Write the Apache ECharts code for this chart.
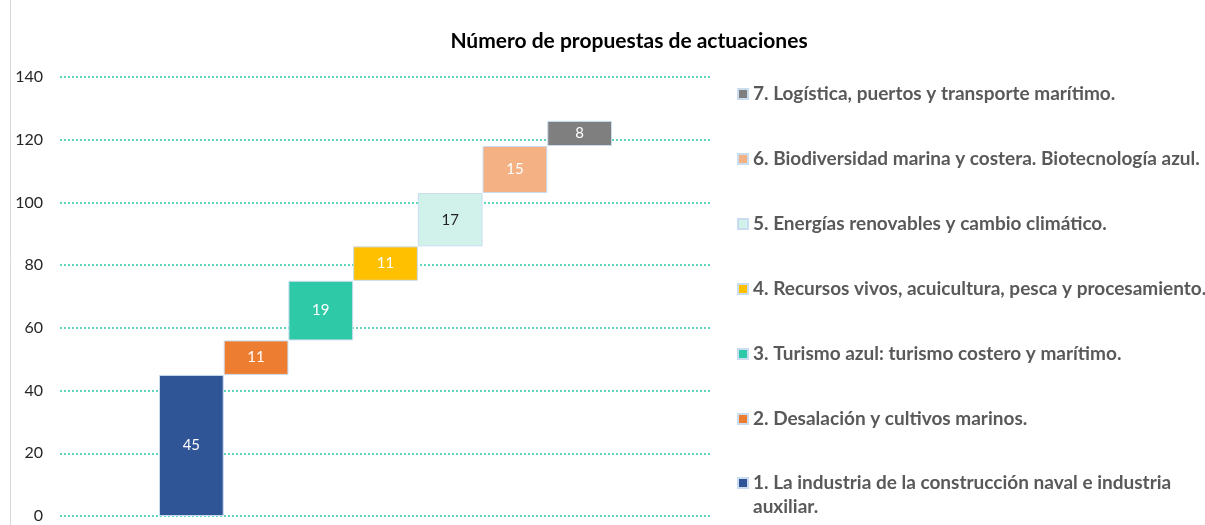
<!DOCTYPE html>
<html>
<head>
<meta charset="utf-8">
<script src="https://cdn.jsdelivr.net/npm/echarts@6/dist/echarts.min.js"></script>
<style>
  html, body { margin: 0; padding: 0; background: #fff; }
  #chart { width: 1205px; height: 525px; }
</style>
</head>
<body>
<div id="chart"></div>
<script>
// Areas of action and number of proposals per area
const categories = [
  '1. La industria de la construcción naval e industria auxiliar.',
  '2. Desalación y cultivos marinos.',
  '3. Turismo azul: turismo costero y marítimo.',
  '4. Recursos vivos, acuicultura, pesca y procesamiento.',
  '5. Energías renovables y cambio climático.',
  '6. Biodiversidad marina y costera. Biotecnología azul.',
  '7. Logística, puertos y transporte marítimo.'
];
const proposals = [45, 11, 19, 11, 17, 15, 8];
const colors = ['#2f5597', '#ed7d31', '#2ec9a7', '#ffc000', '#d1f2eb', '#f4b183', '#7f7f7f'];
const labelColors = ['#fff', '#fff', '#fff', '#fff', '#222', '#fff', '#fff'];
const yTicks = [0, 20, 40, 60, 80, 100, 120, 140];

// Invisible base of each step = running total before that area
const base = [];
let run = 0;
proposals.forEach(v => { base.push(run); run += v; });

const FONT = 'Lato';
const yMin = yTicks[0], yMax = yTicks[yTicks.length - 1], yStep = yTicks[1] - yTicks[0];

const stepSeries = proposals.map((v, i) => ({
  name: categories[i],
  type: 'bar',
  stack: 'total',
  xAxisIndex: 1,
  yAxisIndex: 1,
  barCategoryGap: 0,
  itemStyle: { color: colors[i], borderColor: '#c9dcf0', borderWidth: 1 },
  label: {
    show: true, position: 'inside', color: labelColors[i],
    fontFamily: FONT, fontSize: 15
  },
  data: proposals.map((p, j) => (j === i ? p : null))
}));

const legendText = { fontFamily: FONT, fontSize: 19, fontWeight: 'bold', color: '#595959', lineHeight: 24 };
const legendCommon = {
  orient: 'vertical', left: 737, height: 600, padding: 0,
  itemWidth: 10, itemHeight: 10, itemGap: 41, icon: 'rect', selectedMode: false
};

const chart = echarts.init(document.getElementById('chart'));
chart.setOption({
  animation: false,
  title: {
    text: 'Número de propuestas de actuaciones',
    left: 624, top: 26, textAlign: 'center',
    textStyle: { fontFamily: FONT, fontSize: 21, fontWeight: 'bold', color: '#000' }
  },
  graphic: [{
    type: 'line', shape: { x1: 10.5, y1: 0, x2: 10.5, y2: 525 },
    style: { stroke: '#d9d9d9', lineWidth: 1 }
  }],
  grid: [
    { left: 60, right: 495, top: 77, bottom: 9 },
    { left: 159, right: 593, top: 77, bottom: 9 }
  ],
  xAxis: [
    { type: 'category', gridIndex: 0, data: [''], show: false },
    { type: 'category', gridIndex: 1, data: categories, show: false }
  ],
  yAxis: [
    {
      type: 'value', gridIndex: 0, min: yMin, max: yMax, interval: yStep,
      axisLine: { show: false }, axisTick: { show: false },
      axisLabel: { fontFamily: FONT, fontSize: 16, color: '#262626', margin: 17 },
      splitLine: { lineStyle: { color: '#2ec9a7', type: [2, 2], width: 1.5 } }
    },
    {
      type: 'value', gridIndex: 1, min: yMin, max: yMax, interval: yStep,
      show: false, splitLine: { show: false }
    }
  ],
  legend: [
    Object.assign({}, legendCommon, {
      top: 82,
      data: categories.slice(1).reverse(),
      textStyle: legendText
    }),
    // wrapped two-line entry: a blank leading line keeps the icon level with its first line
    Object.assign({}, legendCommon, {
      top: 447,
      data: [categories[0]],
      formatter: name => '\n' + name.replace(' e industria auxiliar.', ' e industria\nauxiliar.'),
      textStyle: legendText
    })
  ],
  series: [{
    name: 'base', type: 'bar', stack: 'total', xAxisIndex: 1, yAxisIndex: 1,
    barCategoryGap: 0, itemStyle: { color: 'transparent' }, silent: true,
    data: base
  }].concat(stepSeries)
});
</script>
</body>
</html>
